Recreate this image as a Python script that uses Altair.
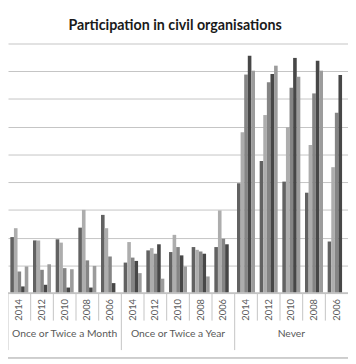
import altair as alt
import pandas as pd

groups = ["Once or Twice a Month", "Once or Twice a Year", "Never"]
years = ["2014", "2012", "2010", "2008", "2006"]
series_names = ["Series 1", "Series 2", "Series 3", "Series 4", "Series 5"]
series_colors = ["#626262", "#adadad", "#858585", "#474747", "#9c9c9c"]

# values per series, ordered group by group, years 2014..2006 (None = no data)
s1 = [10.1, 9.5, 9.7, 11.8, 14.1, 5.5, 7.7, 7.4, 8.3, 8.3, 19.8, 23.8, 20.1, 18.1, 9.3]
s2 = [11.7, 9.5, 9.1, 15.0, 11.7, 9.2, 8.1, 10.5, 7.8, 14.9, 29.0, 32.1, 29.9, 26.7, 22.7]
s3 = [3.9, 4.2, 4.5, 5.9, 6.6, 6.4, 7.1, 8.3, 7.5, 9.8, 39.4, 38.0, 37.0, 36.0, 32.5]
s4 = [1.2, 1.5, 1.0, 1.0, 1.8, 5.8, 8.8, 6.8, 7.1, 8.8, 42.8, 39.5, 42.4, 41.9, 39.3]
s5 = [4.8, 5.2, 4.3, 4.9, None, 3.6, 2.6, 4.8, 3.0, None, 40.1, 41.0, 39.0, 40.1, None]

title_text = "Participation in civil organisations"

keys = [f"{g}|{y}" for g in groups for y in years]
rows = []
for sname, vals in zip(series_names, [s1, s2, s3, s4, s5]):
    for k, v in zip(keys, vals):
        if v is not None:
            rows.append({"key": k, "series": sname, "value": v})
df = pd.DataFrame(rows)

df_years = pd.DataFrame({"key": keys, "year": [k.split("|")[1] for k in keys]})
df_groups = pd.DataFrame({"key": [f"{g}|2010" for g in groups], "group": groups})
df_minor = pd.DataFrame({"key": [k for i, k in enumerate(keys) if i % 5 != 0]})
df_major = pd.DataFrame({"key": [k for i, k in enumerate(keys) if i % 5 == 0]})

W, H = 346, 254
FONT = "Lato"
xscale = alt.Scale(domain=keys, paddingInner=0, paddingOuter=0)

bars = alt.Chart(df).mark_bar().encode(
    x=alt.X("key:N", scale=xscale, axis=None),
    xOffset=alt.XOffset("series:N", scale=alt.Scale(domain=series_names, paddingInner=0, paddingOuter=0.65)),
    y=alt.Y("value:Q", scale=alt.Scale(domain=[0, 45], nice=False),
            axis=alt.Axis(values=list(range(0, 50, 5)), grid=True, labels=False, ticks=False,
                          domain=False, title=None, gridColor="#c4c4c4", gridWidth=1)),
    color=alt.Color("series:N", scale=alt.Scale(domain=series_names, range=series_colors), legend=None),
)

year_text = alt.Chart(df_years).mark_text(angle=270, align="center", baseline="middle",
                                          font=FONT, fontSize=9.5, color="#595959").encode(
    x=alt.X("key:N", scale=xscale, axis=None),
    y=alt.value(271),
    text="year:N",
)

group_text = alt.Chart(df_groups).mark_text(align="center", baseline="middle",
                                            font=FONT, fontSize=10.5, color="#595959").encode(
    x=alt.X("key:N", scale=xscale, axis=None),
    y=alt.value(296),
    text="group:N",
)

minor = alt.Chart(df_minor).mark_rule(color="#c4c4c4", strokeWidth=1).encode(
    x=alt.X("key:N", scale=xscale, axis=None, bandPosition=0),
    y=alt.value(H),
    y2=alt.value(H + 28),
)

major = alt.Chart(df_major).mark_rule(color="#c4c4c4", strokeWidth=1).encode(
    x=alt.X("key:N", scale=xscale, axis=None, bandPosition=0),
    y=alt.value(H),
    y2=alt.value(H + 58),
)

baseline = alt.Chart(df_major).mark_rule(color="#c4c4c4", strokeWidth=1).encode(
    x=alt.value(0), x2=alt.value(W), y=alt.value(H)
)

bottom = alt.Chart(df_major).mark_rule(color="#c8c8c8", strokeWidth=1).encode(
    x=alt.value(0), x2=alt.value(W), y=alt.value(320)
)

title = alt.Chart(pd.DataFrame({"t": [title_text]})).mark_text(
    align="center", baseline="alphabetic", font=FONT, fontSize=14.5, fontWeight="bold", color="#1a1a1a"
).encode(x=alt.value(170), y=alt.value(-14), text="t:N")

chart = alt.layer(bars, baseline, year_text, group_text, minor, major, bottom, title).properties(
    width=W, height=H,
    autosize=alt.AutoSizeParams(type="none"),
    padding={"left": 0, "top": 33, "right": 0, "bottom": 67},
).configure_view(stroke=None)

chart.save("out.html", embed_options={"renderer": "svg", "actions": False})
